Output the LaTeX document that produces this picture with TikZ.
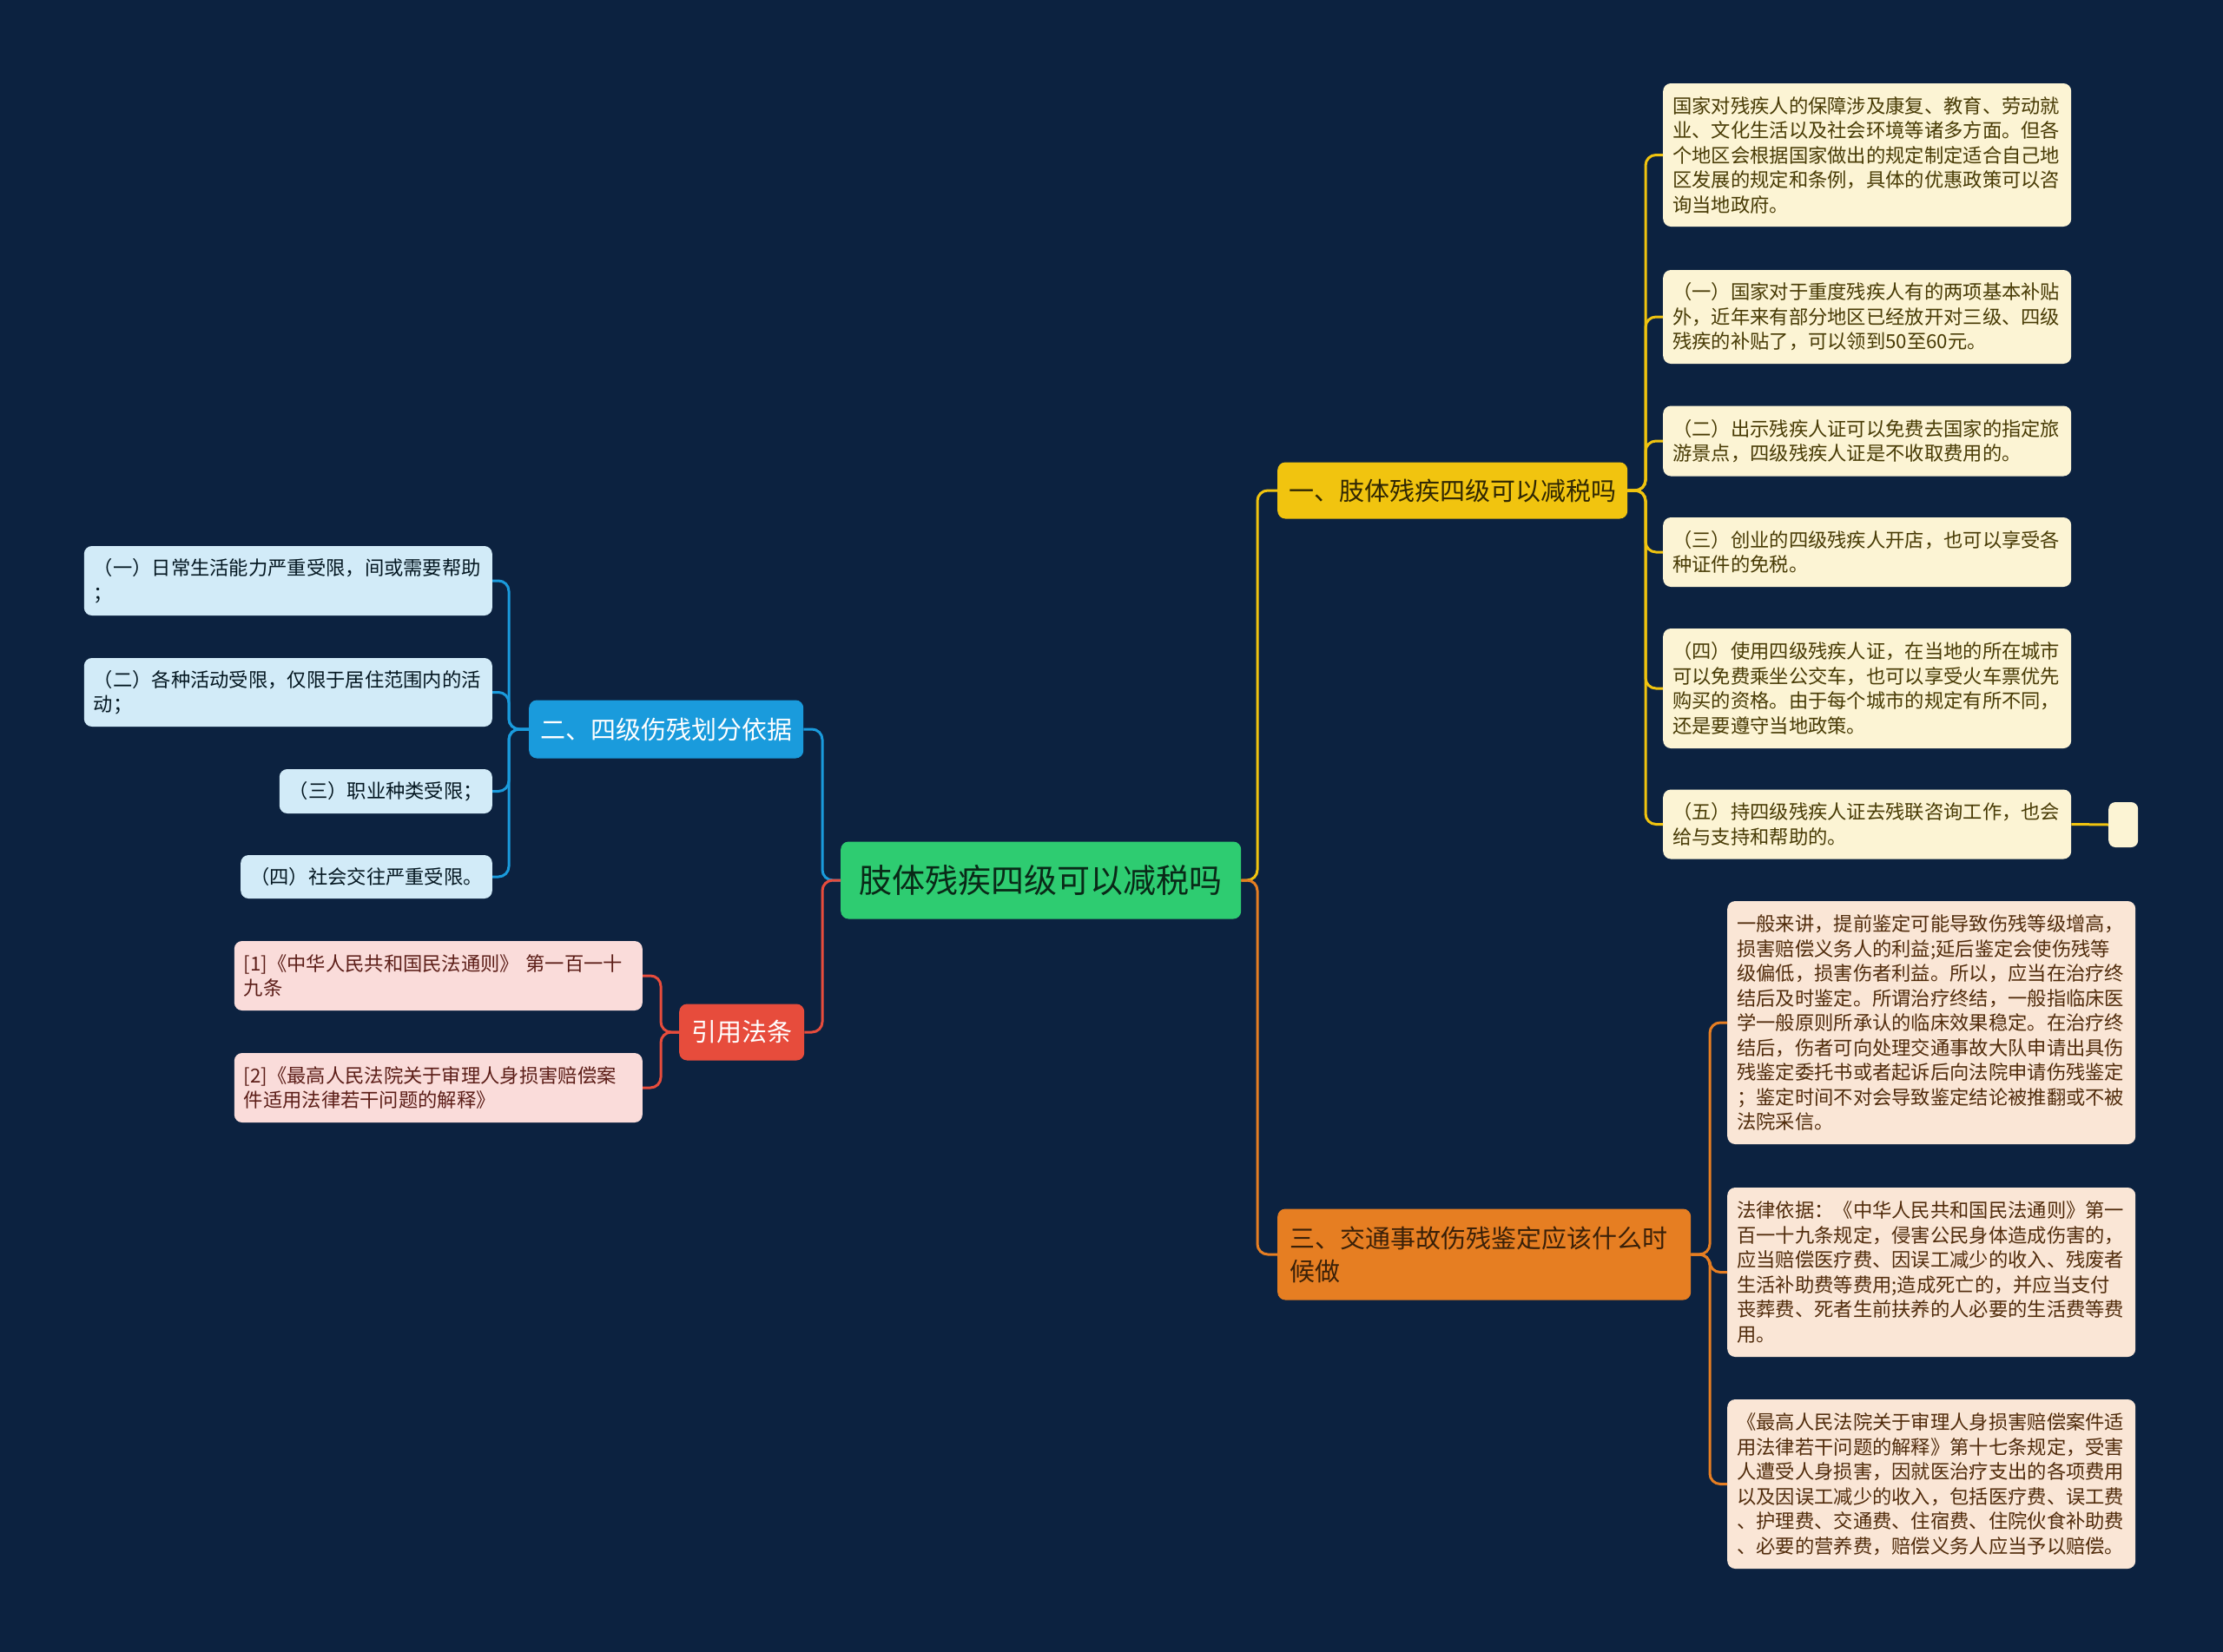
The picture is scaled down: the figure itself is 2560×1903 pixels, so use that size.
\documentclass[tikz,border=0pt]{standalone}
\usepackage{fontspec}
\setmainfont{Noto Sans CJK SC}
\definecolor{navy}{HTML}{0C2240}
\definecolor{rootc}{HTML}{2ECC71}
\definecolor{yelc}{HTML}{F1C40F}
\definecolor{orac}{HTML}{E67E22}
\definecolor{bluc}{HTML}{1A9BDC}
\definecolor{redc}{HTML}{E74C3C}
\definecolor{yleafc}{HTML}{FCF4D4}
\definecolor{oleafc}{HTML}{FAE6D6}
\definecolor{bleafc}{HTML}{D2EBF8}
\definecolor{rleafc}{HTML}{FADCDA}
\begin{document}
\begin{tikzpicture}[x=1pt, y=-1pt,
   box/.style={rounded corners=9pt, inner xsep=11pt, inner ysep=0pt, align=left},
   leaf/.style={box, font=\fontsize{22.3}{28.5}\selectfont},
   yleaf/.style={leaf, fill=yleafc, text=yelc!30!black, text width=448pt, anchor=west},
   oleaf/.style={leaf, fill=oleafc, text=orac!35!black, text width=448pt, anchor=west},
   bleaf/.style={leaf, fill=bleafc, text=bluc!15!black, anchor=east},
   rleaf/.style={leaf, fill=rleafc, text=redc!40!black, text width=448pt, anchor=east},
   branch/.style={box, font=\fontsize{29}{38}\selectfont, anchor=west, inner xsep=13pt},
   link/.style={line width=3pt, rounded corners=12pt}]
   \useasboundingbox (0,0) rectangle (2560,1903);
   \fill[navy] (0,0) rectangle (2560,1903);
   % centre and main branches
   \node[box, fill=rootc, text=rootc!20!black, font=\fontsize{38}{46}\selectfont,
         minimum width=461pt, minimum height=89pt, align=center, anchor=west]
         (root) at (968,1014) {肢体残疾四级可以减税吗};
   \node[branch, fill=yelc, text=yelc!20!black, minimum width=402pt, minimum height=65pt]
         (yb) at (1471,565) {一、肢体残疾四级可以减税吗};
   \node[branch, fill=orac, text=orac!25!black, text width=448pt, inner xsep=14pt,
         minimum height=105pt] (ob) at (1471,1445) {三、交通事故伤残鉴定应该什么时\\候做};
   \node[branch, fill=bluc, text=white, minimum width=316pt, minimum height=67pt]
         (bb) at (609,840) {二、四级伤残划分依据};
   \node[branch, fill=redc, text=white, minimum width=144pt, minimum height=65pt]
         (rb) at (782,1189) {引用法条};
   \coordinate (rtrunk) at (1448,1014);
   \coordinate (ltrunk) at (947,1014);
   \draw[link, yelc] (root.east) -- (rtrunk) |- (yb.west);
   \draw[link, orac] (root.east) -- (rtrunk) |- (ob.west);
   \draw[link, bluc] (root.west) -- (ltrunk) |- (bb.east);
   \draw[link, redc] (root.west) -- (ltrunk) |- (rb.east);
   % yellow leaves
   \coordinate (yspine) at (1895,565);
   \foreach \y/\h/\txt [count=\i] in
     {178.5/165/{国家对残疾人的保障涉及康复、教育、劳动就\\业、文化生活以及社会环境等诸多方面。但各\\个地区会根据国家做出的规定制定适合自己地\\区发展的规定和条例，具体的优惠政策可以咨\\询当地政府。},
      365/108/{（一）国家对于重度残疾人有的两项基本补贴\\外，近年来有部分地区已经放开对三级、四级\\残疾的补贴了，可以领到50至60元。},
      508/81/{（二）出示残疾人证可以免费去国家的指定旅\\游景点，四级残疾人证是不收取费用的。},
      636/80/{（三）创业的四级残疾人开店，也可以享受各\\种证件的免税。},
      793/138/{（四）使用四级残疾人证，在当地的所在城市\\可以免费乘坐公交车，也可以享受火车票优先\\购买的资格。由于每个城市的规定有所不同，\\还是要遵守当地政策。},
      949.5/80/{（五）持四级残疾人证去残联咨询工作，也会\\给与支持和帮助的。}}
   {
     \node[yleaf, minimum height=\h pt] (y\i) at (1915,\y) {\txt};
     \draw[link, yelc] (yb.east) -- (yspine) |- (y\i.west);
   }
   \node[box, fill=yleafc, minimum width=34pt, minimum height=52pt, inner xsep=0pt,
         rounded corners=8pt, anchor=west] (blank) at (2428,950) {};
   \draw[link, yelc] (y6.east) -- (blank.west);
   % orange leaves
   \coordinate (ospine) at (1969,1445);
   \foreach \y/\h/\txt [count=\i] in
     {1178/280/{一般来讲，提前鉴定可能导致伤残等级增高，\\损害赔偿义务人的利益;延后鉴定会使伤残等\\级偏低，损害伤者利益。所以，应当在治疗终\\结后及时鉴定。所谓治疗终结，一般指临床医\\学一般原则所承认的临床效果稳定。在治疗终\\结后，伤者可向处理交通事故大队申请出具伤\\残鉴定委托书或者起诉后向法院申请伤残鉴定\\；鉴定时间不对会导致鉴定结论被推翻或不被\\法院采信。},
      1465.5/195/{法律依据：《中华人民共和国民法通则》第一\\百一十九条规定，侵害公民身体造成伤害的，\\应当赔偿医疗费、因误工减少的收入、残废者\\生活补助费等费用;造成死亡的，并应当支付\\丧葬费、死者生前扶养的人必要的生活费等费\\用。},
      1709.5/195/{《最高人民法院关于审理人身损害赔偿案件适\\用法律若干问题的解释》第十七条规定，受害\\人遭受人身损害，因就医治疗支出的各项费用\\以及因误工减少的收入，包括医疗费、误工费\\、护理费、交通费、住宿费、住院伙食补助费\\、必要的营养费，赔偿义务人应当予以赔偿。}}
   {
     \node[oleaf, minimum height=\h pt] (o\i) at (1989,\y) {\txt};
     \draw[link, orac] (ob.east) -- (ospine) |- (o\i.west);
   }
   % blue leaves
   \coordinate (bspine) at (586,840);
   \node[bleaf, text width=448pt, minimum height=80pt] (b1) at (567,669)
        {（一）日常生活能力严重受限，间或需要帮助\\；};
   \node[bleaf, text width=448pt, minimum height=79pt] (b2) at (567,797.5)
        {（二）各种活动受限，仅限于居住范围内的活\\动；};
   \node[bleaf, minimum height=51pt] (b3) at (567,911.5) {（三）职业种类受限；};
   \node[bleaf, minimum height=50pt] (b4) at (567,1010) {（四）社会交往严重受限。};
   \foreach \i in {1,...,4}
     \draw[link, bluc] (bb.west) -- (bspine) |- (b\i.east);
   % red leaves
   \coordinate (rspine) at (761,1189);
   \node[rleaf, minimum height=80pt] (r1) at (740,1124)
        {[1]《中华人民共和国民法通则》 第一百一十\\九条};
   \node[rleaf, minimum height=80pt] (r2) at (740,1253)
        {[2]《最高人民法院关于审理人身损害赔偿案\\件适用法律若干问题的解释》};
   \foreach \i in {1,2}
     \draw[link, redc] (rb.west) -- (rspine) |- (r\i.east);
\end{tikzpicture}
\end{document}
